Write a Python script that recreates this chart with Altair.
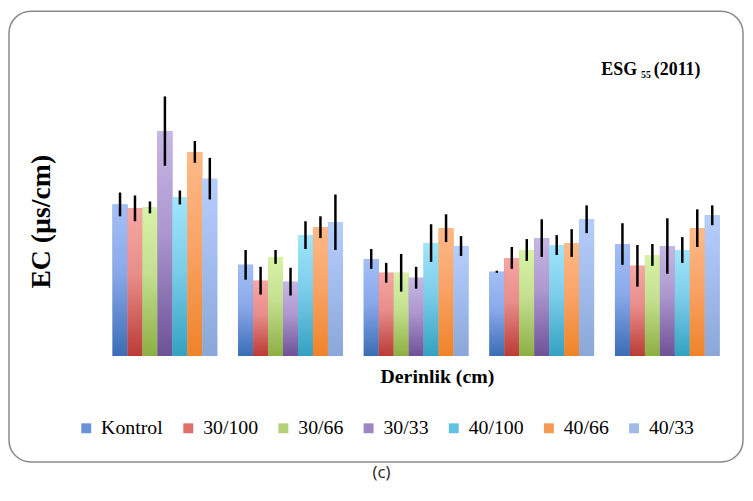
import altair as alt
import pandas as pd

# ---- data (units are relative bar heights) ----
depths = ["0-20", "20-40", "40-60", "60-80", "80-100"]
series = ["Kontrol", "30/100", "30/66", "30/33", "40/100", "40/66", "40/33"]

kontrol = [153, 92, 98, 85, 113]
s30_100 = [149, 76, 84, 99, 91]
s30_66 = [150, 100, 84, 107, 102]
s30_33 = [227, 75, 79, 119, 111]
s40_100 = [160, 122, 114, 112, 107]
s40_66 = [206, 130, 129, 114, 129]
s40_33 = [179, 135, 111, 138, 142]

kontrol_err = [12, 15, 10, 1, 21]
s30_100_err = [13, 14, 10, 11, 21]
s30_66_err = [6, 7, 19, 11, 11]
s30_33_err = [35, 14, 11, 19, 28]
s40_100_err = [7, 14, 19, 10, 13]
s40_66_err = [11, 11, 14, 14, 19]
s40_33_err = [21, 28, 10, 14, 10]

values = [kontrol, s30_100, s30_66, s30_33, s40_100, s40_66, s40_33]
errors = [kontrol_err, s30_100_err, s30_66_err, s30_33_err, s40_100_err, s40_66_err, s40_33_err]

mid_colors = ["#6A92D8", "#DE6F6B", "#B3D278", "#9C86C4", "#62C3E0", "#F79A52", "#A0BAEA"]
grad_stops = [
    ["#A4BFF6", "#8AA9EA", "#3A6DB5"],
    ["#F6A7A4", "#E88D8A", "#BB3B36"],
    ["#D8F3A7", "#C3DF8F", "#8CAF42"],
    ["#C7B7E4", "#AC97CF", "#6E5197"],
    ["#A0E5FB", "#7CCDEA", "#33A1C1"],
    ["#FDBA88", "#F9A468", "#EF8328"],
    ["#B6CEFC", "#A3BDEE", "#8AA7D7"],
]

rows = []
for s, vals, errs in zip(series, values, errors):
    for d, v, e in zip(depths, vals, errs):
        rows.append({"depth": d, "series": s, "value": v, "lo": v - e, "hi": v + e})
df = pd.DataFrame(rows)
one = pd.DataFrame({"k": [0]})

W, H = 634, 297
SERIF = "Liberation Serif"

x_enc = alt.X("depth:N", scale=alt.Scale(domain=depths, paddingInner=0.166, paddingOuter=0.083),
              axis=alt.Axis(labels=False, ticks=False, domain=False, grid=False,
                            title="Derinlik (cm)", titleFont=SERIF, titleFontSize=20,
                            titleFontWeight="bold", titleColor="black", titleX=338, titleY=21,
                            titleBaseline="middle", titleAlign="center"))
xo_enc = alt.XOffset("series:N", scale=alt.Scale(domain=series, paddingInner=0, paddingOuter=0))
y_enc = alt.Y("value:Q", scale=alt.Scale(domain=[0, H], nice=False, zero=True),
              axis=alt.Axis(labels=False, ticks=False, domain=False, grid=False,
                            title="EC (µs/cm)", titleFont=SERIF, titleFontSize=28,
                            titleFontWeight="bold", titleColor="black", titleX=-61, titleY=161,
                            titleAngle=270, titleAlign="center", titleBaseline="middle"))

base = alt.Chart(df).mark_bar().encode(
    x=x_enc, xOffset=xo_enc, y=y_enc,
    color=alt.Color("series:N", scale=alt.Scale(domain=series, range=mid_colors),
                    legend=alt.Legend(orient="none", legendX=-26, legendY=360, direction="horizontal",
                                      columns=7, title=None, labelFont=SERIF,
                                      labelFontSize=20, labelColor="black", symbolType="square",
                                      symbolSize=100, symbolStrokeWidth=0, columnPadding=15,
                                      labelOffset=5, padding=0)),
)

layers = [base]
for s, stops in zip(series, grad_stops):
    grad = alt.Gradient(gradient="linear", x1=0, x2=0, y1=0, y2=1,
                        stops=[alt.GradientStop(color=stops[0], offset=0),
                               alt.GradientStop(color=stops[1], offset=0.45),
                               alt.GradientStop(color=stops[2], offset=1)])
    layers.append(
        alt.Chart(df).transform_filter(alt.datum.series == s).mark_bar(color=grad).encode(
            x=alt.X("depth:N"), xOffset=alt.XOffset("series:N"), y=alt.Y("value:Q"))
    )

err = alt.Chart(df).mark_rule(color="black", strokeWidth=2.5).encode(
    x=alt.X("depth:N"), xOffset=alt.XOffset("series:N"), y=alt.Y("lo:Q"), y2="hi:Q")
layers.append(err)

border = alt.Chart(one).mark_rect(fillOpacity=0, stroke="#8a8a8a", strokeWidth=1.5, cornerRadius=22).encode(
    x=alt.value(-94), x2=alt.value(647), y=alt.value(-51), y2=alt.value(404))
layers.append(border)

t1 = alt.Chart(one).mark_text(text="ESG", font=SERIF, fontSize=18, fontWeight="bold",
                              align="left", baseline="alphabetic", color="black").encode(
    x=alt.value(504), y=alt.value(13))
t2 = alt.Chart(one).mark_text(text="55", font=SERIF, fontSize=10, fontWeight="bold",
                              align="left", baseline="alphabetic", color="black").encode(
    x=alt.value(544), y=alt.value(16))
t3 = alt.Chart(one).mark_text(text="(2011)", font=SERIF, fontSize=18, fontWeight="bold",
                              align="left", baseline="alphabetic", color="black").encode(
    x=alt.value(557), y=alt.value(13))
cap = alt.Chart(one).mark_text(text="(c)", font="Open Sans", fontSize=17, align="center",
                               baseline="alphabetic", color="#222222").encode(
    x=alt.value(282), y=alt.value(420))
layers += [t1, t2, t3, cap]

chart = alt.layer(*layers).properties(
    width=W, height=H,
    padding={"left": 95, "top": 52, "right": 15, "bottom": 130},
    autosize=alt.AutoSizeParams(type="none"),
).configure_view(stroke=None)

chart.save("out.html", embed_options={"renderer": "svg", "actions": False})
